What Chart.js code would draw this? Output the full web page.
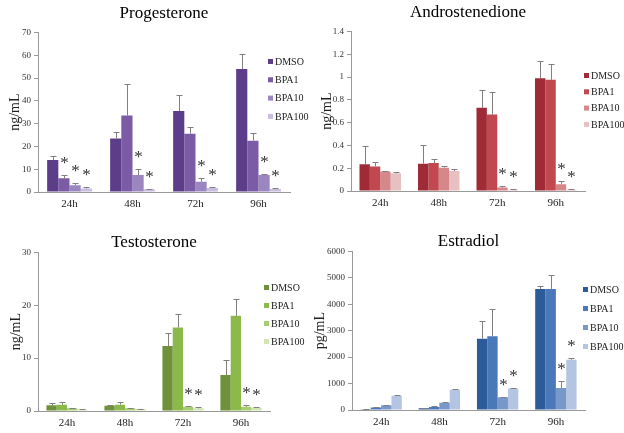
<!DOCTYPE html>
<html>
<head>
<meta charset="utf-8">
<script src="https://cdn.jsdelivr.net/npm/chart.js@4.4.1/dist/chart.umd.min.js"></script>
<style>
html, body { margin: 0; padding: 0; background: #fff; }
#wrap { position: relative; width: 624px; height: 433px; }
#wrap canvas { position: absolute; }
</style>
</head>
<body>
<div id="wrap">
  <canvas id="prog" width="312" height="216" style="left:0;top:0"></canvas>
  <canvas id="andro" width="312" height="216" style="left:312px;top:0"></canvas>
  <canvas id="testo" width="312" height="217" style="left:0;top:216px"></canvas>
  <canvas id="estra" width="312" height="217" style="left:312px;top:216px"></canvas>
</div>
<script>
// ---- data ----
const categories = ["24h", "48h", "72h", "96h"];
const treatments = ["DMSO", "BPA1", "BPA10", "BPA100"];

// one row per treatment (DMSO, BPA1, BPA10, BPA100), one value per time point
const progMean = [[14, 23.5, 35.5, 54], [6, 33.5, 25.5, 22.5], [3, 7.5, 4.5, 7.5], [1.5, 1.2, 1.7, 1.3]];
const progErr  = [[2, 2.7, 7, 6.5], [1.5, 13.8, 3, 3.5], [1, 2.5, 1.7, 0.2], [0.5, 0.3, 0.5, 0.5]];
const progStar = [[0, 0, 0, 0], [1, 0, 0, 0], [1, 1, 1, 1], [1, 1, 1, 1]];
const progTicks = ["0", "10", "20", "30", "40", "50", "60", "70"];

const androMean = [[0.235, 0.24, 0.73, 0.99], [0.215, 0.245, 0.67, 0.975], [0.17, 0.205, 0.03, 0.06], [0.155, 0.175, 0.01, 0.012]];
const androErr  = [[0.16, 0.16, 0.16, 0.15], [0.04, 0.035, 0.2, 0.135], [0.005, 0.01, 0.015, 0.025], [0.015, 0.02, 0.01, 0.004]];
const androStar = [[0, 0, 0, 0], [0, 0, 0, 0], [0, 0, 1, 1], [0, 0, 1, 1]];
const androTicks = ["0", "0.2", "0.4", "0.6", "0.8", "1", "1.2", "1.4"];

const testoMean = [[1.1, 1.0, 12.3, 6.8], [1.2, 1.2, 15.8, 18], [0.5, 0.5, 0.8, 0.8], [0.3, 0.4, 0.5, 0.6]];
const testoErr  = [[0.4, 0.2, 2.5, 2.8], [0.5, 0.5, 2.6, 3.1], [0.1, 0.15, 0.1, 0.4], [0.05, 0.05, 0.3, 0.25]];
const testoStar = [[0, 0, 0, 0], [0, 0, 0, 0], [0, 0, 1, 1], [0, 0, 1, 1]];
const testoTicks = ["0", "10", "20", "30"];

const estraMean = [[30, 70, 2700, 4580], [90, 110, 2790, 4580], [180, 270, 480, 830], [540, 770, 810, 1900]];
const estraErr  = [[20, 20, 650, 120], [20, 30, 1040, 520], [20, 20, 20, 270], [20, 30, 20, 50]];
const estraStar = [[0, 0, 0, 0], [0, 0, 0, 0], [0, 0, 1, 1], [0, 0, 1, 1]];
const estraTicks = ["0", "1000", "2000", "3000", "4000", "5000", "6000"];

const serif = '"Liberation Serif", "Times New Roman", serif';

// error bars, stars and the legend
const extras = {
    id: 'extras',
    afterDatasetsDraw(chart, args, opts) {
        const ctx = chart.ctx, y = chart.scales.y;
        ctx.save();
        chart.data.datasets.forEach((ds, i) => {
            chart.getDatasetMeta(i).data.forEach((bar, j) => {
                const x = Math.round(bar.x) + 0.5;
                const top = Math.round(y.getPixelForValue(ds.data[j] + ds.err[j])) + 0.5;
                ctx.strokeStyle = '#808080';
                ctx.lineWidth = 1;
                ctx.beginPath();
                ctx.moveTo(x, bar.y);
                ctx.lineTo(x, top);
                ctx.moveTo(x - 3, top);
                ctx.lineTo(x + 3, top);
                ctx.stroke();
                if (ds.star[j]) {
                    ctx.fillStyle = '#333';
                    ctx.font = '17px ' + serif;
                    ctx.textAlign = 'center';
                    ctx.textBaseline = 'alphabetic';
                    ctx.fillText('*', x, top - 8);
                }
            });
        });
        // legend
        ctx.font = '10px ' + serif;
        ctx.textAlign = 'left';
        ctx.textBaseline = 'middle';
        chart.data.datasets.forEach((ds, i) => {
            const ly = opts.y + i * opts.gap;
            ctx.fillStyle = ds.backgroundColor;
            ctx.fillRect(opts.x, ly - 3, 5, 5);
            ctx.fillStyle = '#222';
            ctx.fillText(ds.label, opts.x + 7, ly);
        });
        ctx.restore();
    }
};

function panel(id, title, yTitle, mean, err, star, colors, ticks, yMax, yStep, g) {
    return new Chart(document.getElementById(id), {
        type: 'bar',
        data: {
            labels: categories,
            datasets: treatments.map((t, i) => ({
                label: t,
                data: mean[i],
                err: err[i],
                star: star[i],
                backgroundColor: colors[i],
                categoryPercentage: 0.71,
                barPercentage: 1.0
            }))
        },
        options: {
            responsive: false,
            animation: false,
            layout: { padding: { left: 0, right: g.w - g.right, top: 0, bottom: 0 } },
            plugins: {
                legend: { display: false },
                tooltip: { enabled: false },
                title: {
                    display: true,
                    text: title,
                    fullSize: false,
                    color: '#000',
                    font: { family: serif, size: 17, weight: 'normal' },
                    padding: { top: g.tTop, bottom: g.tBottom }
                },
                extras: g.legend
            },
            scales: {
                x: {
                    grid: { display: false, drawTicks: false },
                    border: { color: '#999', width: 1 },
                    ticks: { color: '#222', font: { family: serif, size: 11 }, padding: 6 },
                    afterFit(s) { s.height = g.xh; }
                },
                y: {
                    min: 0,
                    max: yMax,
                    grid: { drawOnChartArea: false, drawTicks: true, tickLength: 4, color: '#999' },
                    border: { color: '#999', width: 1 },
                    ticks: {
                        stepSize: yStep,
                        color: '#333',
                        font: { family: serif, size: 9 },
                        padding: 3,
                        callback: (v, i) => ticks[i]
                    },
                    title: {
                        display: true,
                        text: yTitle,
                        color: '#222',
                        font: { family: serif, size: 14 },
                        padding: { top: g.yPad, bottom: 0 }
                    },
                    afterFit(s) { s.width = g.left; }
                }
            }
        },
        plugins: [extras]
    });
}

panel('prog', 'Progesterone', 'ng/mL', progMean, progErr, progStar,
    ['#5c3d8a', '#7b5aa6', '#9c86c2', '#c8bcdf'], progTicks, 70, 10,
    { w: 312, left: 38, right: 290, tTop: 3, tBottom: 9, xh: 24, yPad: 7, legend: { x: 268, y: 62, gap: 18.3 } });

panel('andro', 'Androstenedione', 'ng/mL', androMean, androErr, androStar,
    ['#9e2b35', '#c0484e', '#d5878a', '#e9c0c1'], androTicks, 1.4, 0.2,
    { w: 312, left: 39, right: 273, tTop: 2, tBottom: 9, xh: 25, yPad: 7, legend: { x: 272, y: 76, gap: 16.3 } });

panel('testo', 'Testosterone', 'ng/mL', testoMean, testoErr, testoStar,
    ['#6f9139', '#8bba4b', '#a9cd72', '#d2e5b0'], testoTicks, 30, 10,
    { w: 312, left: 38, right: 270, tTop: 16, tBottom: 0, xh: 22, yPad: 8, legend: { x: 264, y: 72, gap: 18 } });

panel('estra', 'Estradiol', 'pg/mL', estraMean, estraErr, estraStar,
    ['#2c5b9a', '#4a78b8', '#7898c9', '#b3c5e2'], estraTicks, 6000, 1000,
    { w: 312, left: 40, right: 273, tTop: 15, tBottom: 0, xh: 23, yPad: 0, legend: { x: 271, y: 74, gap: 19 } });
</script>
</body>
</html>
